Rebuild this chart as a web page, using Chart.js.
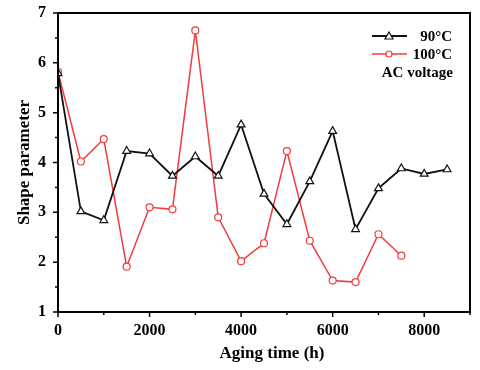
<!DOCTYPE html>
<html>
<head>
<meta charset="utf-8">
<script src="https://cdn.jsdelivr.net/npm/chart.js@4.4.0/dist/chart.umd.min.js"></script>
<style>
  html, body { margin: 0; padding: 0; background: #fff; }
  #wrap { width: 480px; height: 370px; }
</style>
</head>
<body>
<div id="wrap"><canvas id="chart" width="480" height="370"></canvas></div>
<script>
// Aging time (h)
const hours90 = [0, 500, 1000, 1500, 2000, 2500, 3000, 3500, 4000, 4500, 5000, 5500, 6000, 6500, 7000, 7500, 8000, 8500];
const shape90 = [5.79, 3.02, 2.84, 4.23, 4.18, 3.73, 4.12, 3.73, 4.76, 3.37, 2.76, 3.62, 4.63, 2.66, 3.48, 3.88, 3.77, 3.86];
const hours100 = [0, 500, 1000, 1500, 2000, 2500, 3000, 3500, 4000, 4500, 5000, 5500, 6000, 6500, 7000, 7500];
const shape100 = [5.82, 4.02, 4.47, 1.91, 3.10, 3.06, 6.65, 2.90, 2.02, 2.38, 4.23, 2.43, 1.63, 1.60, 2.56, 2.13];
const seriesLabels = ['90°C', '100°C'];
const xTicks = [0, 2000, 4000, 6000, 8000];
const yTicks = [1, 2, 3, 4, 5, 6, 7];

const serif = '"Liberation Serif", "Times New Roman", serif';
const red = '#f23c3c';

function toPoints(xs, ys) {
  return xs.map((x, i) => ({ x: x, y: ys[i] }));
}

// frame, ticks, titles and the inside legend
const decorations = {
  id: 'decorations',
  afterDraw(chart) {
    const ctx = chart.ctx;
    const { left, right, top, bottom } = chart.chartArea;
    const xs = chart.scales.x;
    const ys = chart.scales.y;
    ctx.save();
    ctx.strokeStyle = '#000';
    ctx.lineWidth = 2;
    ctx.beginPath();
    ctx.moveTo(left, bottom);
    ctx.lineTo(left, top);
    ctx.lineTo(right, top);
    ctx.lineTo(right, bottom);
    ctx.lineTo(left, bottom);
    ctx.stroke();

    // x ticks, major every 2000, minor every 1000
    ctx.lineWidth = 1.5;
    ctx.beginPath();
    for (let v = 0; v <= 9000; v += 1000) {
      const px = xs.getPixelForValue(v);
      const len = v % 2000 === 0 ? 5 : 3;
      ctx.moveTo(px, bottom);
      ctx.lineTo(px, bottom + len);
    }
    for (let v = 1; v <= 7; v += 0.5) {
      const py = ys.getPixelForValue(v);
      const len = Number.isInteger(v) ? 5 : 3;
      ctx.moveTo(left, py);
      ctx.lineTo(left - len, py);
    }
    ctx.stroke();

    // axis titles
    ctx.fillStyle = '#000';
    ctx.font = 'bold 17px ' + serif;
    ctx.textAlign = 'center';
    ctx.textBaseline = 'middle';
    ctx.fillText('Aging time (h)', (left + right) / 2 + 8, 354);
    ctx.save();
    ctx.translate(25, (top + bottom) / 2);
    ctx.rotate(-Math.PI / 2);
    ctx.fillText('Shape parameter', 0, 0);
    ctx.restore();

    // legend
    const rows = [
      { y: 36, ds: chart.data.datasets[0] },
      { y: 54, ds: chart.data.datasets[1] }
    ];
    ctx.font = 'bold 15px ' + serif;
    rows.forEach(r => {
      ctx.strokeStyle = r.ds.borderColor;
      ctx.lineWidth = r.ds.borderWidth;
      ctx.beginPath();
      ctx.moveTo(372, r.y);
      ctx.lineTo(407, r.y);
      ctx.stroke();
      ctx.fillStyle = '#fff';
      ctx.lineWidth = 1.2;
      ctx.beginPath();
      if (r.ds.pointStyle === 'triangle') {
        ctx.moveTo(389, r.y - 4);
        ctx.lineTo(393, r.y + 3);
        ctx.lineTo(385, r.y + 3);
        ctx.closePath();
      } else {
        ctx.arc(389, r.y, 3, 0, Math.PI * 2);
      }
      ctx.fill();
      ctx.stroke();
      ctx.fillStyle = '#000';
      ctx.textAlign = 'right';
      ctx.fillText(r.ds.label, 452, r.y + 1);
    });
    ctx.textAlign = 'right';
    ctx.fillText('AC voltage', 453, 73);
    ctx.restore();
  }
};

new Chart(document.getElementById('chart'), {
  type: 'line',
  data: {
    datasets: [
      {
        label: seriesLabels[0],
        data: toPoints(hours90, shape90),
        borderColor: '#111',
        backgroundColor: '#fff',
        borderWidth: 1.8,
        pointStyle: 'triangle',
        pointRadius: 4.5,
        pointBorderWidth: 1.2,
        pointBackgroundColor: '#fff',
        pointBorderColor: '#111',
        tension: 0
      },
      {
        label: seriesLabels[1],
        data: toPoints(hours100, shape100),
        borderColor: red,
        backgroundColor: '#fff',
        borderWidth: 1.5,
        pointStyle: 'circle',
        pointRadius: 3.5,
        pointBorderWidth: 1.2,
        pointBackgroundColor: '#fff',
        pointBorderColor: red,
        tension: 0
      }
    ]
  },
  options: {
    responsive: false,
    animation: false,
    layout: { padding: { top: 13, right: 10, left: 0, bottom: 0 } },
    plugins: {
      legend: { display: false },
      tooltip: { enabled: false }
    },
    scales: {
      x: {
        type: 'linear',
        min: 0,
        max: 9000,
        afterFit(scale) {
          scale.height = 58;
          scale.paddingLeft = 0;
          scale.paddingRight = 0;
        },
        afterBuildTicks(scale) { scale.ticks = xTicks.map(v => ({ value: v })); },
        grid: { display: false, drawTicks: false },
        border: { display: false },
        ticks: {
          color: '#000',
          padding: 9,
          maxRotation: 0,
          callback: v => String(v),
          font: { family: serif, size: 16, weight: 'bold' }
        }
      },
      y: {
        min: 1,
        max: 7,
        afterFit(scale) {
          scale.width = 58;
          scale.paddingTop = 0;
          scale.paddingBottom = 0;
        },
        afterBuildTicks(scale) { scale.ticks = yTicks.map(v => ({ value: v })); },
        grid: { display: false, drawTicks: false },
        border: { display: false },
        ticks: {
          color: '#000',
          padding: 12,
          callback: v => String(v),
          font: { family: serif, size: 16, weight: 'bold' }
        }
      }
    }
  },
  plugins: [decorations]
});
</script>
</body>
</html>
